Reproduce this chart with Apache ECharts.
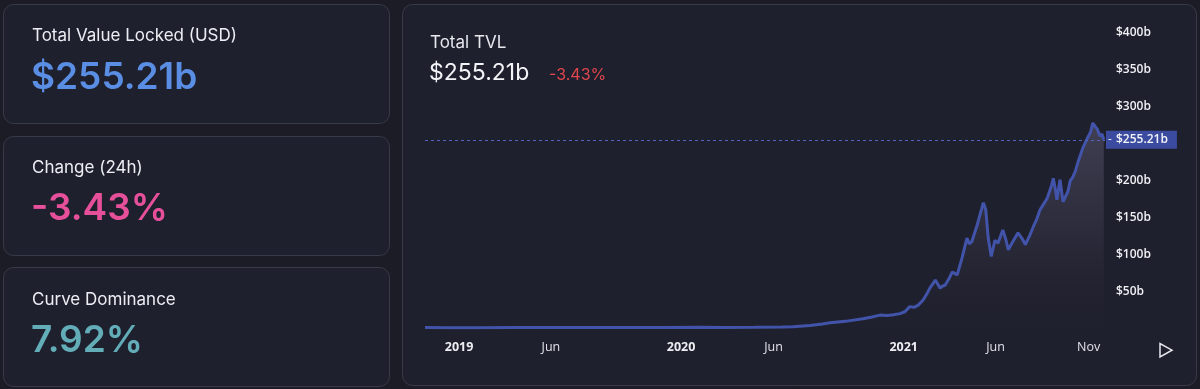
<!DOCTYPE html>
<html>
<head>
<meta charset="utf-8">
<script src="https://cdn.jsdelivr.net/npm/echarts@6/dist/echarts.min.js"></script>
<style>
html,body{margin:0;padding:0;background:#1b1c25;}
#c{width:1200px;height:389px;}
</style>
</head>
<body>
<div id="c"></div>
<script>
// ---- data ----
const dates = [
'2018-11-06','2018-12-15','2019-02-01','2019-04-01','2019-06-01','2019-08-01','2019-10-01','2019-12-01',
'2020-02-01','2020-03-15','2020-05-01','2020-06-15','2020-07-03','2020-07-31','2020-08-20','2020-09-02',
'2020-09-27','2020-10-26','2020-11-10','2020-11-23','2020-12-05','2020-12-15','2020-12-26',
'2021-01-03','2021-01-11','2021-01-18','2021-01-25','2021-02-02','2021-02-08','2021-02-13','2021-02-22',
'2021-03-02','2021-03-06','2021-03-10','2021-03-16','2021-03-22','2021-03-30','2021-04-07','2021-04-15',
'2021-04-19','2021-04-23','2021-05-02','2021-05-08','2021-05-12','2021-05-16','2021-05-20','2021-05-25',
'2021-05-31','2021-06-05','2021-06-13','2021-06-18','2021-06-22','2021-06-30','2021-07-08','2021-07-15',
'2021-07-20','2021-07-27','2021-08-02','2021-08-08','2021-08-13','2021-08-19','2021-08-25','2021-09-01',
'2021-09-04','2021-09-08','2021-09-10','2021-09-15','2021-09-20','2021-09-24','2021-09-28','2021-10-02',
'2021-10-05','2021-10-10','2021-10-15','2021-10-23','2021-10-31','2021-11-04','2021-11-08','2021-11-12',
'2021-11-15','2021-11-20','2021-11-23','2021-11-26'
];
const tvl = [
0.6,0.5,0.5,0.7,0.8,0.6,0.6,0.6,
0.9,0.6,0.9,1.4,1.8,3.5,5.5,7,
9,12.5,15,17.5,17,18,19.5,
22,29,28,31,38,46,54,65,
54,57,58,66,76,72,95,122,
114,117,140,158,170,160,122,97,
119,115,133,120,106,118,129,121,
113,125,137,148,160,168,176,193,
203,185,174,201,171,178,185,200,
203,212,226,245,259,265,278,273,
270,260,263,255.21
];
const currentTvl = 255.21;
const xTickDates = ['2019-01-01','2019-06-01','2020-01-01','2020-06-01','2021-01-01','2021-06-01','2021-11-01'];
const xTickLabels = ['2019','Jun','2020','Jun','2021','Jun','Nov'];
const xTickIsYear = [true,false,true,false,true,false,false];
const yHiddenTicks = [0,250];
const xRange = ['2018-11-06','2021-11-28'];

// ---- chart ----
const ts = d => Date.UTC(+d.slice(0,4), +d.slice(5,7)-1, +d.slice(8,10));
const chart = echarts.init(document.getElementById('c'), null, {renderer:'canvas'});
const seriesData = dates.map((d,i)=>[ts(d), tvl[i]]);
const tickTimes = xTickDates.map(ts);
const FONT = 'Inter, "Noto Sans", sans-serif';
const AXFONT = '"Open Sans", "DejaVu Sans", sans-serif';

function card(x,y,w,h){
  return {type:'rect', z:0, shape:{x:x+0.5,y:y+0.5,width:w,height:h,r:10},
    style:{fill:'#1f202d',stroke:'#383a4a',lineWidth:1}, silent:true};
}
function txt(x,y,text,size,weight,color){
  return {type:'text', z:1, silent:true,
    style:{x:x,y:y,text:text,font:weight+' '+size+'px '+FONT,fill:color,
      verticalAlign:'middle',textVerticalAlign:'middle',align:'left'}};
}

const option = {
  backgroundColor:'#1b1c25',
  animation:false,
  graphic:[
    card(3,4,386,119),
    card(3,136,386,119),
    card(3,267,386,119),
    card(402,4,794,381),
    txt(32,36,'Total Value Locked (USD)',17,400,'#eceef4'),
    txt(31,78,'$255.21b',37,600,'#5a8ee4'),
    txt(32,168,'Change (24h)',17,400,'#eceef4'),
    txt(31,209,'-3.43%',37,600,'#e6509a'),
    txt(32,300,'Curve Dominance',17,400,'#eceef4'),
    txt(31,341,'7.92%',37,600,'#62adb8'),
    txt(430,43,'Total TVL',17,400,'#e6e8ee'),
    txt(429,73,'$255.21b',23,400,'#f2f3f7'),
    txt(549,75,'-3.43%',16,400,'#e0464d'),
    {type:'polygon', z:1, silent:true, shape:{points:[[1160,343.5],[1160,357],[1172,350.2]]},
      style:{fill:'none',stroke:'#e8e8ee',lineWidth:1.5}}
  ],
  grid:{left:425,right:95,top:33,bottom:61,containLabel:false},
  xAxis:{
    type:'value',
    min:ts(xRange[0]), max:ts(xRange[1]),
    axisLine:{show:false}, axisTick:{show:false}, splitLine:{show:false},
    axisLabel:{
      customValues:tickTimes,
      hideOverlap:false,
      margin:13,
      color:'#e6e8ee',
      fontSize:12,
      fontFamily:AXFONT,
      formatter:function(v){
        let idx = tickTimes.indexOf(+v);
        if(idx<0) return '';
        return xTickIsYear[idx] ? '{y|'+xTickLabels[idx]+'}' : '{m|'+xTickLabels[idx]+'}';
      },
      rich:{
        y:{fontWeight:700,fontSize:12.5,color:'#eceef2',fontFamily:AXFONT},
        m:{fontWeight:400,fontSize:12.5,color:'#e0e2e8',fontFamily:AXFONT}
      }
    }
  },
  yAxis:{
    type:'value', position:'right', min:0, max:400, interval:50,
    axisLine:{show:false}, axisTick:{show:false}, splitLine:{show:false},
    axisLabel:{
      inside:false, margin:11, align:'left',
      color:'#eef0f4', fontSize:12, fontWeight:600, fontFamily:AXFONT,
      formatter:function(v){ return yHiddenTicks.indexOf(v)>=0 ? '' : '$'+v+'b'; }
    }
  },
  series:[{
    type:'line',
    data:seriesData,
    showSymbol:false,
    symbol:'none',
    smooth:false,
    lineStyle:{color:'#4253aa',width:3},
    itemStyle:{color:'#4253aa'},
    areaStyle:{
      color:new echarts.graphic.LinearGradient(0,0,0,1,[
        {offset:0,color:'rgba(104,100,128,0.68)'},
        {offset:0.5,color:'rgba(74,72,94,0.45)'},
        {offset:1,color:'rgba(40,40,55,0.05)'}
      ])
    },
    markLine:{
      silent:true,
      symbol:'none',
      animation:false,
      data:[{yAxis:currentTvl}],
      lineStyle:{color:'#5264bb',type:[3,3],width:1},
      label:{
        show:true, position:'end', distance:1,
        formatter:'{d|-}{v|$'+currentTvl+'b}',
        backgroundColor:'#3b4ca0',
        padding:[3,9,3,2],
        rich:{
          d:{color:'#e8e8ee',width:8,fontSize:12,fontFamily:AXFONT},
          v:{color:'#f4f5f8',fontSize:12,fontWeight:600,fontFamily:AXFONT}
        }
      }
    }
  }]
};
chart.setOption(option);
</script>
</body>
</html>
